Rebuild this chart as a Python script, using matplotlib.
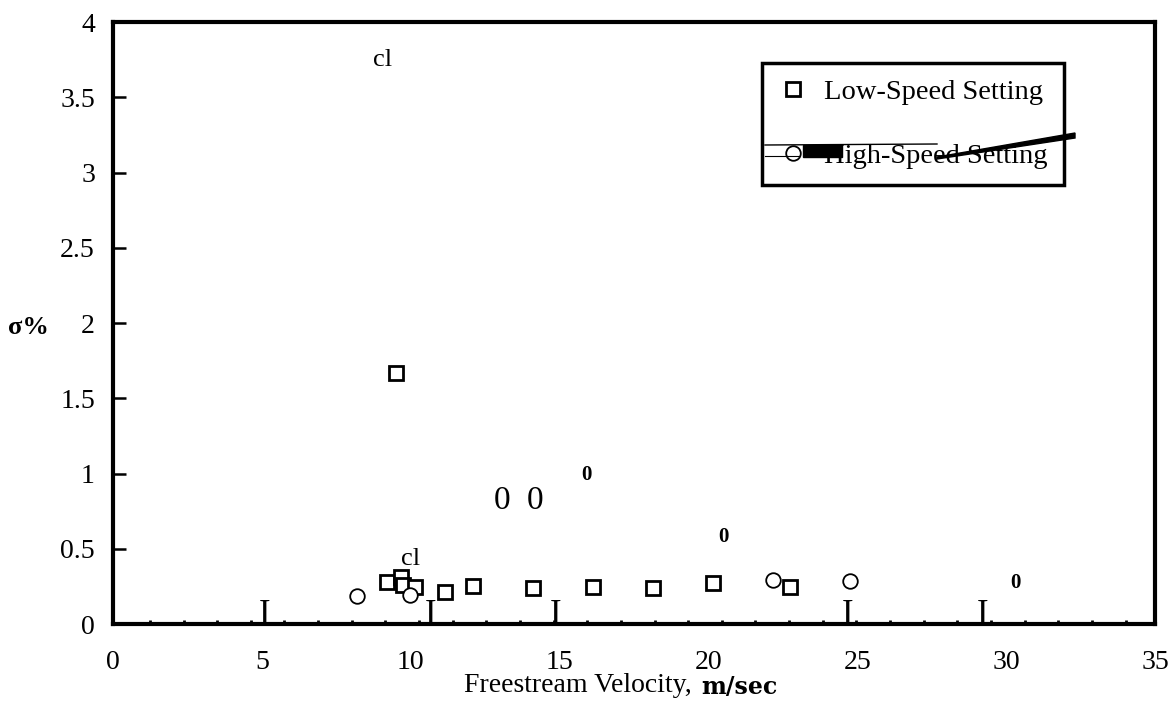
import matplotlib
matplotlib.use("Agg")
import matplotlib.pyplot as plt
import numpy as np
from matplotlib.lines import Line2D
from matplotlib.patches import Rectangle, Polygon

plt.rcParams['font.family'] = ['Liberation Serif', 'DejaVu Serif']

# Desvio padrão (%) em função da velocidade do escoamento livre
vel_baixa = [9.20, 9.67, 9.74, 10.14, 11.15, 12.09, 14.11, 16.12, 18.14, 20.15, 22.74, 9.51]
sigma_baixa = [0.28, 0.31, 0.26, 0.245, 0.21, 0.25, 0.24, 0.245, 0.24, 0.27, 0.245, 1.67]

vel_alta = [8.20, 9.98, 22.17, 24.76]
sigma_alta = [0.185, 0.19, 0.29, 0.285]

# Marcas espúrias da digitalização (texto solto no gráfico)
ruido_txt = ['cl', 'cl', '0', '0']
ruido_x = [9.04, 10.0, 13.07, 14.18]
ruido_y = [3.75, 0.43, 0.82, 0.82]
ruido_neg_x = [15.89, 20.49, 30.3]
ruido_neg_y = [0.99, 0.58, 0.27]
barras_I_x = [5.1, 10.65, 14.85, 24.69, 29.22]

W, H = 1172, 717
fig = plt.figure(figsize=(W / 100, H / 100), dpi=100)
ax = fig.add_axes([113 / W, 1 - 624 / H, (1155 - 113) / W, (624 - 22) / H])

ax.plot(vel_baixa, sigma_baixa, 's', ms=9.5, mfc='white', mec='black', mew=2.0, ls='none')
ax.plot(vel_alta, sigma_alta, 'o', ms=10.5, mfc='white', mec='black', mew=1.3, ls='none')

for t, x, y in zip(ruido_txt, ruido_x, ruido_y):
    fs = 19 if t == 'cl' else 24
    ax.text(x, y, t, fontsize=fs, ha='center', va='center')
for x, y in zip(ruido_neg_x, ruido_neg_y):
    ax.text(x, y, '0', fontsize=15, fontweight='bold', ha='center', va='center')
for x in barras_I_x:
    ax.text(x, 0.0, 'I', fontsize=25, ha='center', va='baseline')

ax.set_xlim(0, 35)
ax.set_ylim(0, 4)
ax.set_xticks(np.arange(0, 36, 5))
ax.set_yticks(np.arange(0, 4.01, 0.5))
ax.set_yticklabels(['0', '0.5', '1', '1.5', '2', '2.5', '3', '3.5', '4'])
ax.set_xticks(np.arange(1.24, 35, 1.13), minor=True)

ax.tick_params(axis='x', which='major', length=0, pad=19, labelsize=20)
ax.tick_params(axis='x', which='minor', direction='in', length=3, width=2)
ax.tick_params(axis='y', which='major', direction='in', length=9, width=1.8, pad=13, labelsize=20)

for s in ax.spines.values():
    s.set_linewidth(3)

# rótulo do eixo x em duas partes (unidade em negrito)
fig.text(692 / W, 1 - 686 / H, 'Freestream Velocity,', fontsize=20, ha='right', va='center')
fig.text(701 / W, 1 - 687 / H, 'm/sec', fontsize=17, fontweight='bold',
         family='DejaVu Serif', ha='left', va='center')
fig.text(28 / W, 1 - 327 / H, 'σ%', fontsize=19, fontweight='bold', ha='center', va='center')

handles = [
    Line2D([], [], marker='s', ls='none', ms=9.5, mfc='white', mec='black', mew=2.0),
    Line2D([], [], marker='o', ls='none', ms=10.5, mfc='white', mec='black', mew=1.3),
]
leg = ax.legend(handles, ['Low-Speed Setting', 'High-Speed Setting'],
                loc='upper left', bbox_to_anchor=(0.623, 0.932), borderaxespad=0,
                fontsize=20.5, handlelength=1.0, handletextpad=0.6, borderpad=0.58,
                labelspacing=1.32, fancybox=False, framealpha=1)
leg.get_frame().set_edgecolor('black')
leg.get_frame().set_linewidth(2.5)

# riscos sobre a segunda entrada da legenda
def px(x, y):
    return x / W, 1 - y / H

fig.add_artist(Line2D(*zip(px(765, 145), px(937, 144)), transform=fig.transFigure, color='black', lw=1))
fig.add_artist(Line2D(*zip(px(765, 156), px(800, 156)), transform=fig.transFigure, color='black', lw=0.8))
fig.add_artist(Rectangle(px(803, 157), 39 / W, 12 / H, transform=fig.transFigure, color='black'))
fig.add_artist(Polygon([px(937, 157), px(1075, 133), px(1075, 138), px(937, 159)],
                       closed=True, transform=fig.transFigure, color='black'))

fig.savefig('out.png', dpi=100)
